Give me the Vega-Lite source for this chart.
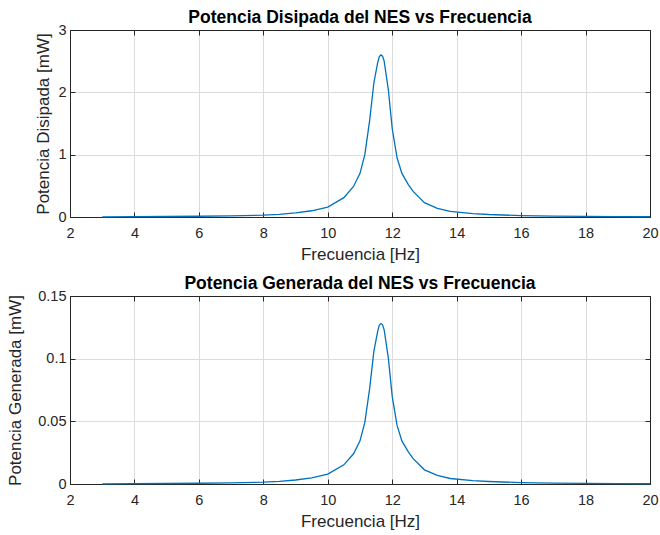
{
  "$schema": "https://vega.github.io/schema/vega-lite/v6.json",
  "background": "white",
  "padding": {"left": 6, "top": 8, "right": 10, "bottom": 0},
  "spacing": 11,
  "datasets": {
    "d": [
      {"f": 3, "pd": 0.003, "pg": 0.00015},
      {"f": 4, "pd": 0.005, "pg": 0.00025},
      {"f": 5, "pd": 0.008, "pg": 0.0004},
      {"f": 6, "pd": 0.012, "pg": 0.0006},
      {"f": 7, "pd": 0.018, "pg": 0.0009},
      {"f": 8, "pd": 0.03, "pg": 0.0015},
      {"f": 8.5, "pd": 0.042, "pg": 0.0021},
      {"f": 9, "pd": 0.065, "pg": 0.0032},
      {"f": 9.5, "pd": 0.1, "pg": 0.0049},
      {"f": 10, "pd": 0.16, "pg": 0.0079},
      {"f": 10.5, "pd": 0.31, "pg": 0.0153},
      {"f": 10.8, "pd": 0.49, "pg": 0.0241},
      {"f": 11, "pd": 0.7, "pg": 0.0344},
      {"f": 11.15, "pd": 1.0, "pg": 0.0492},
      {"f": 11.3, "pd": 1.55, "pg": 0.0763},
      {"f": 11.43, "pd": 2.15, "pg": 0.1058},
      {"f": 11.55, "pd": 2.48, "pg": 0.122},
      {"f": 11.6, "pd": 2.575, "pg": 0.1268},
      {"f": 11.65, "pd": 2.6, "pg": 0.128},
      {"f": 11.7, "pd": 2.58, "pg": 0.127},
      {"f": 11.75, "pd": 2.5, "pg": 0.123},
      {"f": 11.88, "pd": 2.04, "pg": 0.1004},
      {"f": 12, "pd": 1.42, "pg": 0.0699},
      {"f": 12.15, "pd": 0.95, "pg": 0.0467},
      {"f": 12.3, "pd": 0.7, "pg": 0.0344},
      {"f": 12.5, "pd": 0.52, "pg": 0.0256},
      {"f": 12.65, "pd": 0.41, "pg": 0.0202},
      {"f": 13, "pd": 0.23, "pg": 0.0113},
      {"f": 13.4, "pd": 0.14, "pg": 0.0069},
      {"f": 13.8, "pd": 0.09, "pg": 0.0044},
      {"f": 14.5, "pd": 0.055, "pg": 0.0027},
      {"f": 15, "pd": 0.04, "pg": 0.002},
      {"f": 16, "pd": 0.022, "pg": 0.0011},
      {"f": 17, "pd": 0.014, "pg": 0.0007},
      {"f": 18, "pd": 0.009, "pg": 0.00044},
      {"f": 19, "pd": 0.006, "pg": 0.0003},
      {"f": 20, "pd": 0.004, "pg": 0.0002}
    ]
  },
  "vconcat": [
    {
      "width": 580,
      "height": 187,
      "data": {"name": "d"},
      "title": {"text": "Potencia Disipada del NES vs Frecuencia"},
      "layer": [
        {
          "mark": {"type": "line", "color": "#0072BD", "strokeWidth": 1.3},
          "encoding": {
            "x": {"field": "f", "type": "quantitative", "scale": {"domain": [2, 20], "nice": false}, "axis": {"values": [2,4,6,8,10,12,14,16,18,20], "title": "Frecuencia [Hz]", "orient": "bottom"}},
            "y": {"field": "pd", "type": "quantitative", "scale": {"domain": [0, 3], "nice": false}, "axis": {"values": [0,1,2,3], "title": "Potencia Disipada [mW]", "format": ".2~f", "orient": "left", "titlePadding": 5}}
          }
        },
        {
          "mark": {"type": "line", "opacity": 0},
          "encoding": {
            "x": {"field": "f", "type": "quantitative", "axis": {"values": [2,4,6,8,10,12,14,16,18,20], "orient": "top", "labels": false, "grid": false, "title": null, "minExtent": 0, "maxExtent": 0}},
            "y": {"field": "pd", "type": "quantitative", "axis": {"values": [0,1,2,3], "orient": "right", "labels": false, "grid": false, "title": null, "minExtent": 0, "maxExtent": 0}}
          }
        }
      ],
      "resolve": {"axis": {"x": "independent", "y": "independent"}}
    },
    {
      "width": 580,
      "height": 188,
      "data": {"name": "d"},
      "title": {"text": "Potencia Generada del NES vs Frecuencia"},
      "layer": [
        {
          "mark": {"type": "line", "color": "#0072BD", "strokeWidth": 1.3},
          "encoding": {
            "x": {"field": "f", "type": "quantitative", "scale": {"domain": [2, 20], "nice": false}, "axis": {"values": [2,4,6,8,10,12,14,16,18,20], "title": "Frecuencia [Hz]", "orient": "bottom"}},
            "y": {"field": "pg", "type": "quantitative", "scale": {"domain": [0, 0.15], "nice": false}, "axis": {"values": [0,0.05,0.1,0.15], "title": "Potencia Generada [mW]", "format": ".2~f", "orient": "left", "titlePadding": 13}}
          }
        },
        {
          "mark": {"type": "line", "opacity": 0},
          "encoding": {
            "x": {"field": "f", "type": "quantitative", "axis": {"values": [2,4,6,8,10,12,14,16,18,20], "orient": "top", "labels": false, "grid": false, "title": null, "minExtent": 0, "maxExtent": 0}},
            "y": {"field": "pg", "type": "quantitative", "axis": {"values": [0,0.05,0.1,0.15], "orient": "right", "labels": false, "grid": false, "title": null, "minExtent": 0, "maxExtent": 0}}
          }
        }
      ],
      "resolve": {"axis": {"x": "independent", "y": "independent"}}
    }
  ],
  "config": {
    "view": {"stroke": "#262626", "strokeWidth": 1},
    "font": "Liberation Sans",
    "title": {"font": "Liberation Sans", "fontSize": 17.5, "fontWeight": "bold", "color": "#000000", "offset": -4},
    "axis": {
      "labelFont": "Liberation Sans",
      "labelFontSize": 14.5,
      "labelColor": "#262626",
      "titleFont": "Liberation Sans",
      "titleFontSize": 17,
      "titleFontWeight": "normal",
      "titleColor": "#262626",
      "gridColor": "#dcdcdc",
      "gridOpacity": 1,
      "domainColor": "#262626",
      "tickColor": "#262626",
      "tickSize": -5,
      "labelFlush": false,
      "labelOverlap": false
    },
    "axisX": {"labelPadding": 14, "titlePadding": 7},
    "axisY": {"labelPadding": 9}
  }
}
